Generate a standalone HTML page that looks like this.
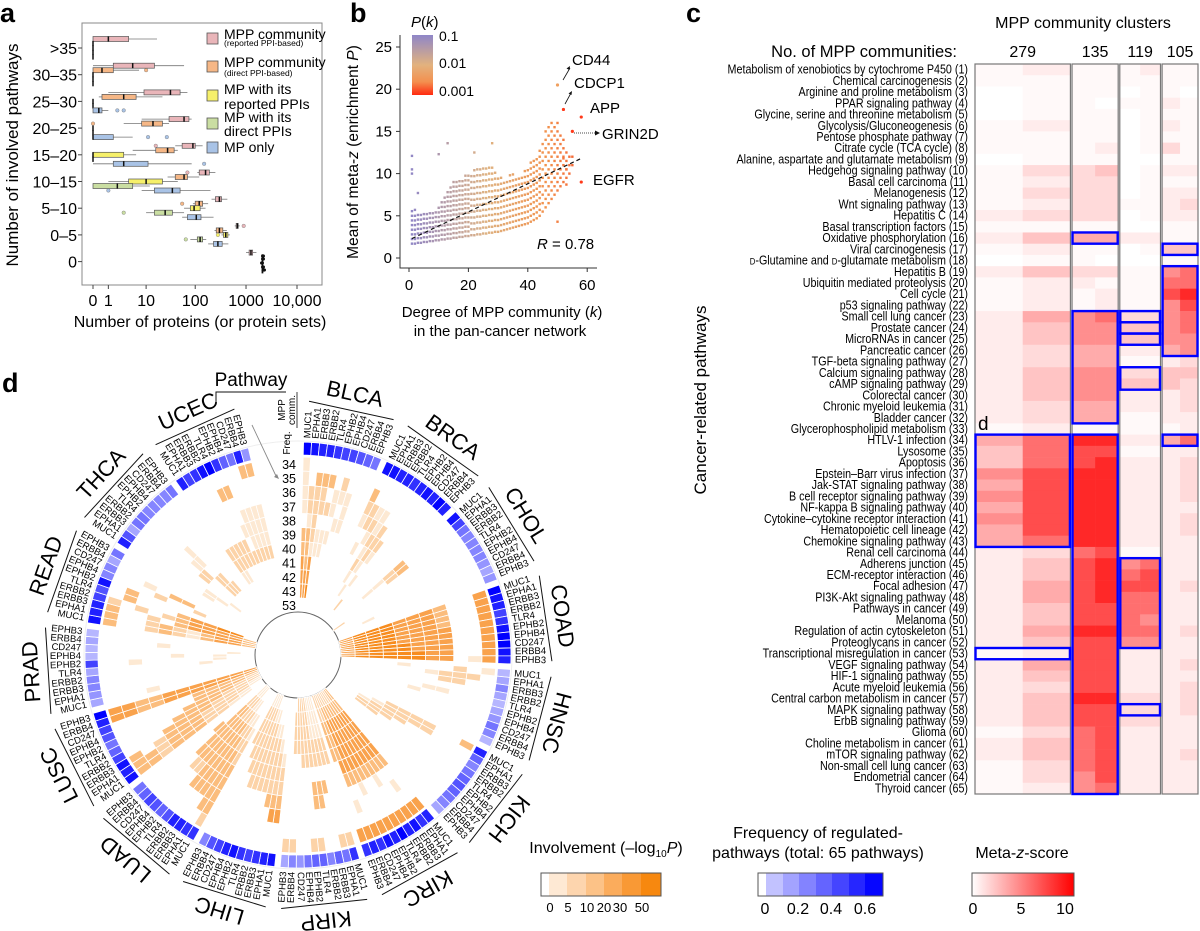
<!DOCTYPE html>
<html><head><meta charset="utf-8">
<style>
body{margin:0;background:#fff;}
svg{display:block;font-family:"Liberation Sans",Arial,sans-serif;}
.pl{font-weight:bold;font-size:27px;}
</style></head>
<body>
<svg id="fig" xmlns="http://www.w3.org/2000/svg" width="1200" height="931" viewBox="0 0 1200 931">
  <defs>
    <linearGradient id="pkGrad" x1="0" y1="0" x2="0" y2="1">
      <stop offset="0" stop-color="#8f86c8"/><stop offset="0.5" stop-color="#e2b27e"/><stop offset="0.78" stop-color="#f3904f"/><stop offset="1" stop-color="#ff2a10"/>
    </linearGradient>
    <linearGradient id="mzGrad" x1="0" y1="0" x2="1" y2="0">
      <stop offset="0" stop-color="#ffffff"/><stop offset="1" stop-color="#ff0000"/>
    </linearGradient>
  </defs>
  <text class="pl" x="0" y="22">a</text>
  <text class="pl" x="350" y="22">b</text>
  <text class="pl" x="686" y="22">c</text>
  <text class="pl" x="2" y="392">d</text>

  <g id="pa"></g>
  <g id="pb"></g>
  <g id="pc"></g>
  <g id="pd"></g>
  <g id="lg"></g>
</svg>
<script>
const NS='http://www.w3.org/2000/svg';
function mk(tag,attrs,parent){const e=document.createElementNS(NS,tag);for(const k in attrs)e.setAttribute(k,attrs[k]);parent.appendChild(e);return e;}
function tx(str,attrs,parent){const e=mk('text',attrs,parent);e.textContent=str;return e;}

/* ================= PANEL A DATA ================= */
const aCats=['>35','30–35','25–30','20–25','15–20','10–15','5–10','0–5','0'];
const aTicks=[0,1,10,100,1000,10000];
const aTickLabels=['0','1','10','100','1000','10,000'];
const aSeriesNames=['MPP community (reported PPI-based)','MPP community (direct PPI-based)','MP with its reported PPIs','MP with its direct PPIs','MP only'];
const pinkStats=[[0,0,1,4,17],[0,1.5,5,15,60],[1,9,32,50,70],[8,30,60,75,85],[40,55,90,100,140],[110,120,160,190,250],[210,250,300,330,430],[600,640,680,700,750],[1000,1150,1250,1350,1600]];
const orangeStats=[[0,0,0,0,0],[0,0,0.5,1.5,7],[0.3,0.5,3,6,22],[3,8,14,22,30],[5,16,28,38,45],[28,40,60,70,120],[90,100,120,140,180],[240,260,300,350,420],[2000,2050,2100,2150,2200]];
const yellowStats=[[0,0,0,0,0],[0,0,0,0,0],[0,0,0,0,0],[0,0,0,0,0],[0,0,0,3,6],[1,4,10,22,45],[60,80,95,125,160],[330,360,400,440,480],[2000,2050,2100,2150,2200]];
const greenStats=[[0,0,0,0,0],[0,0,0,0,0],[0,0,0,0,0],[0,0,0,0,0],[0,0,0,0,0],[0,0,2,5,12],[10,15,25,35,60],[80,110,125,140,165],[2000,2050,2100,2150,2200]];
const blueStats=[[0,0,0,0,0],[0,0,0,0,0],[0,0,0.3,0.5,1],[0,0,0,1.5,5],[0,1.5,3,11,85],[8,15,35,50,200],[55,70,105,130,230],[180,230,280,340,450],[2000,2050,2100,2150,2200]];
const aOutSeries=[1,4,4,1,4,4,0,4,0,4,1,3,0,2,3];
const aOutCats  =[1,2,2,3,3,3,4,4,5,5,6,6,7,7,7];
const aOutVals  =[10,2,3,0,11,27,16,150,70,1,55,3,900,280,65];

(function(){
  const g=document.getElementById('pa');
  const fills=['#e9b5b9','#f6b786','#f6f06a','#cadea2','#a9c3e6'];
  const offs=[-9,-4.5,0,4.5,9];
  const X=v=>93+51*Math.log10(v+1);
  const Y=ci=>48+ci*26.7;
  const frame=mk('rect',{x:82,y:23,width:240,height:262,fill:'none',stroke:'#888','stroke-width':1},g);
  
  
  aCats.forEach((c,i)=>{
    const t=tx(c,{x:77,y:Y(i)+6,'text-anchor':'end','font-size':16},g);
    
    
    mk('line',{x1:78,x2:82,y1:Y(i),y2:Y(i),stroke:'#444'},g);
  });
  aTicks.forEach((v,i)=>{
    const t=tx(aTickLabels[i],{x:X(v),y:306,'text-anchor':'middle','font-size':16},g);
    
    
    mk('line',{x1:X(v),x2:X(v),y1:285,y2:289,stroke:'#444'},g);
  });
  const series=[pinkStats,orangeStats,yellowStats,greenStats,blueStats];
  series.forEach((st,si)=>{
    st.forEach((s,ci)=>{
      if(!s)return;
      const yc=Y(ci)+offs[si];
      const bg=mk('g',{},g);
      
      
      mk('line',{x1:X(s[0]),x2:X(s[1]),y1:yc,y2:yc,stroke:'#777','stroke-width':0.8},bg);
      mk('line',{x1:X(s[3]),x2:X(s[4]),y1:yc,y2:yc,stroke:'#777','stroke-width':0.8},bg);
      const w=Math.max(X(s[3])-X(s[1]),0.01);
      if(w>0.5) mk('rect',{x:X(s[1]),y:yc-2.5,width:w,height:5,fill:fills[si],stroke:'#555','stroke-width':0.7},bg);
      mk('line',{x1:X(s[2]),x2:X(s[2]),y1:yc-2.6,y2:yc+2.6,stroke:'#111','stroke-width':1.5},bg);
    });
  });
  aOutVals.forEach((v,i)=>{
    const c=mk('circle',{cx:X(v),cy:Y(aOutCats[i])+offs[aOutSeries[i]],r:1.8,fill:fills[aOutSeries[i]],stroke:'#777','stroke-width':0.4},g);
    
    
  });
  [[263,256],[263,259],[262,263],[263,267],[264,270]].forEach(p=>{
    const c=mk('ellipse',{cx:p[0],cy:p[1],rx:2,ry:1.6,fill:'#111'},g);
    
    
  });
  const ly=[[33,39,46,'MPP community','(reported PPI-based)'],[61,67,76,'MPP community','(direct PPI-based)'],[90,94,109,'MP with its','reported PPIs'],[118,122,136,'MP with its','direct PPIs'],[142,152,null,'MP only',null]];
  ly.forEach((L,i)=>{
    const lg=mk('g',{},g);
    
    
    mk('rect',{x:207,y:L[0],width:11,height:11,fill:fills[i],stroke:'#555','stroke-width':0.8},lg);
    tx(L[3],{x:224,y:L[1],'font-size':14},lg);
    if(L[4]) tx(L[4],{x:224,y:L[2],'font-size':L[4].startsWith('(')?8.5:14},lg);
  });
})();

/* ================= PANEL B DATA ================= */
const bLo=[1.7,1.7,1.8,1.8,1.9,1.9,2.0,2.0,2.1,2.1,2.2,2.2,2.3,2.3,2.4,2.4,2.5,2.5,2.6,2.6,2.7,2.7,2.8,2.8,2.9,2.9,3.0,3.0,3.1,3.1,3.2,3.3,3.4,3.5,3.6,3.7,3.8,3.9,4.0,4.1,4.3,4.5,4.7,5.0,5.5,6,6.5,7,7.5,8,8.5,9,9.5,10,11];
const bHi=[6,5,5.5,5.5,5.5,5.5,5.5,5.5,5.5,6,7,7.5,8,8.5,9,9,9.5,9.5,10,10,10,10.5,10.5,11,11,11,11,11,10.5,10,10,9.5,9.5,10,10,9.5,9.5,10,10.5,11,11.5,12,12,13,14,15,16,16.5,16,16,15,14,13,12,12];
const bExtraK=[1,1,1,3,2,10,13,28,22,50,53,53,52];
const bExtraZ=[10,10.5,12.1,7.7,5.7,12.3,13.6,13.6,12.5,4.3,8.7,10.5,11.8];
const bGenes=['CD44','CDCP1','APP','GRIN2D','EGFR'];
const bGeneK=[50,52,58,55,58];
const bGeneZ=[20.5,17.6,16.7,15,9];
const bXTicks=[0,20,40,60];
const bYTicks=[0,5,10,15,20,25];
const regK=[1,58];
const regZ=[2.3,11.8];

(function(){
  const g=document.getElementById('pb');
  const X=k=>409+k*2.97;
  const Y=z=>258-z*8.44;
  const col=k=>{const t=Math.min(k/58,1);const s=[[0,143,134,200],[0.45,222,178,130],[0.8,242,145,75],[1,245,95,50]];
    for(let i=1;i<s.length;i++){if(t<=s[i][0]){const u=(t-s[i-1][0])/(s[i][0]-s[i-1][0]);return 'rgb('+[1,2,3].map(j=>Math.round(s[i-1][j]+u*(s[i][j]-s[i-1][j]))).join(',')+')';}}return 'rgb(245,95,50)';};
  const ax=mk('path',{d:'M400 35 V268 H597',fill:'none',stroke:'#333','stroke-width':1},g);
  
  
  bXTicks.forEach(v=>{mk('line',{x1:X(v),x2:X(v),y1:268,y2:272,stroke:'#333'},g);
    const t=tx(String(v),{x:X(v),y:290,'text-anchor':'middle','font-size':15},g);
    
    });
  bYTicks.forEach(v=>{mk('line',{x1:396,x2:400,y1:Y(v),y2:Y(v),stroke:'#333'},g);
    const t=tx(String(v),{x:392,y:Y(v)+5,'text-anchor':'end','font-size':15},g);
    
    });
  bLo.forEach((lo,i)=>{
    const k=i+1;const step=k<=20?0.55:(k<=44?0.7:1.0);
    for(let z=lo;z<=bHi[i]+0.001;z+=step){
      const p=mk('rect',{x:X(k)-1.2,y:Y(z)-1.2,width:2.4,height:2.4,fill:col(k)},g);
      
      
    }
  });
  bExtraK.forEach((k,i)=>{
    const p=mk('rect',{x:X(k)-1.2,y:Y(bExtraZ[i])-1.2,width:2.4,height:2.4,fill:col(k)},g);
    
    
  });
  const rl=mk('line',{x1:X(regK[0]),y1:Y(regZ[0]),x2:X(regK[1]),y2:Y(regZ[1]),stroke:'#111','stroke-width':1.2,'stroke-dasharray':'4,3'},g);
  
  
  const lpos=[[572,65],[574,88],[590,113],[602,139],[593,185]];
  bGenes.forEach((n,i)=>{
    const p=mk('circle',{cx:X(bGeneK[i]),cy:Y(bGeneZ[i]),r:1.6,fill:i==0?'#f0a060':'#ff3a1a'},g);
    
    
    const t=tx(n,{x:lpos[i][0],y:lpos[i][1],'font-size':15},g);
    
    
  });
  mk('line',{x1:563,y1:80,x2:570,y2:68,stroke:'#111','stroke-width':0.8},g);
  mk('path',{d:'M570 66 l-3.5 2.5 l3 1.5z',fill:'#111'},g);
  mk('line',{x1:565,y1:104,x2:571,y2:93,stroke:'#111','stroke-width':0.8},g);
  mk('path',{d:'M572 91 l-3.5 2.5 l3 1.5z',fill:'#111'},g);
  mk('line',{x1:574,y1:133,x2:596,y2:133,stroke:'#111','stroke-width':0.8,'stroke-dasharray':'1,1'},g);
  mk('path',{d:'M600 133 l-5 -2.5 v5z',fill:'#111'},g);
  const r=tx('',{x:537,y:249,'font-size':15},g);
  r.innerHTML='<tspan font-style="italic">R</tspan> = 0.78';
  
  
  const cb=mk('rect',{x:412,y:35,width:21,height:60,fill:'url(#pkGrad)'},g);
  
  
  const pk=tx('',{x:411,y:27,'font-size':15},g);
  pk.innerHTML='<tspan font-style="italic">P</tspan>(<tspan font-style="italic">k</tspan>)';
  
  
  [['0.1',41],['0.01',68],['0.001',96]].forEach(a=>{const t=tx(a[0],{x:439,y:a[1],'font-size':14},g);
    
    });
  const xl=tx('',{x:502,y:317,'text-anchor':'middle','font-size':15},g);
  xl.innerHTML='Degree of MPP community (<tspan font-style="italic">k</tspan>)';
  
  
  const xl2=tx('in the pan-cancer network',{x:500,y:336,'text-anchor':'middle','font-size':15},g);
  
  
  const yl=tx('',{x:0,y:0,'text-anchor':'middle','font-size':15.5,transform:'translate(358,152) rotate(-90)'},g);
  yl.innerHTML='Mean of meta-<tspan font-style="italic">z</tspan> (enrichment <tspan font-style="italic">P</tspan>)';
  
  
})();

/* ================= PANEL C DATA ================= */
const pathways=['Metabolism of xenobiotics by cytochrome P450','Chemical carcinogenesis','Arginine and proline metabolism','PPAR signaling pathway','Glycine, serine and threonine metabolism','Glycolysis/Gluconeogenesis','Pentose phosphate pathway','Citrate cycle (TCA cycle)','Alanine, aspartate and glutamate metabolism','Hedgehog signaling pathway','Basal cell carcinoma','Melanogenesis','Wnt signaling pathway','Hepatitis C','Basal transcription factors','Oxidative phosphorylation','Viral carcinogenesis','D-Glutamine and D-glutamate metabolism','Hepatitis B','Ubiquitin mediated proteolysis','Cell cycle','p53 signaling pathway','Small cell lung cancer','Prostate cancer','MicroRNAs in cancer','Pancreatic cancer','TGF-beta signaling pathway','Calcium signaling pathway','cAMP signaling pathway','Colorectal cancer','Chronic myeloid leukemia','Bladder cancer','Glycerophospholipid metabolism','HTLV-1 infection','Lysosome','Apoptosis','Epstein–Barr virus infection','Jak-STAT signaling pathway','B cell receptor signaling pathway','NF-kappa B signaling pathway','Cytokine–cytokine receptor interaction','Hematopoietic cell lineage','Chemokine signaling pathway','Renal cell carcinoma','Adherens junction','ECM-receptor interaction','Focal adhesion','PI3K-Akt signaling pathway','Pathways in cancer','Melanoma','Regulation of actin cytoskeleton','Proteoglycans in cancer','Transcriptional misregulation in cancer','VEGF signaling pathway','HIF-1 signaling pathway','Acute myeloid leukemia','Central carbon metabolism in cancer','MAPK signaling pathway','ErbB signaling pathway','Glioma','Choline metabolism in cancer','mTOR signaling pathway','Non-small cell lung cancer','Endometrial cancer','Thyroid cancer'];
const zRows=['12111211','11111111','01110110','01101121','01110111','12110121','11110111','11120131','01110011','13340122','12330111','13330122','12331123','23330122','11110011','24552211','12110144','01100011','24331167','12211177','12121189','12121168','25673367','24664467','24664466','23552256','23551123','24663344','24664443','24662223','23552223','23551122','12111112','57992257','47881122','47892223','68992223','58992223','68992223','58992222','68992223','58992223','57992222','23781122','24896722','24897822','25898823','25897722','24887722','24887622','25997723','24886622','12882222','25882223','24882222','23882223','24993323','24883323','24883322','13782222','24782222','24782223','13782222','13682222','12672222'];
const clusterCounts=[279,135,119,105];
const boxCluster=[2,4,4,3,3,3,2,3,1,2,4,3,1,3];
const boxRowStart=[16,17,19,23,24,25,23,28,34,34,34,45,53,58];
const boxRowEnd  =[16,17,26,23,24,25,32,29,43,65,34,52,53,58];

(function(){
  const g=document.getElementById('pc');
  const L=975,R=1198,T=64,B=794,gap=1.6;
  const rh=(B-T)/pathways.length;
  const tot=clusterCounts.reduce((a,b)=>a+b,0);
  const avail=R-L-gap*(clusterCounts.length-1);
  const edges=[];let x=L;
  clusterCounts.forEach(c=>{const w=avail*c/tot;edges.push([x,x+w]);x+=w+gap;});
  const red=v=>{const t=Math.pow(Math.min(v/10,1),1.6);const c=Math.round(255*(1-t));return 'rgb(255,'+c+','+c+')';};
  const cellsG=mk('g',{},g);
  zRows.forEach((s,ri)=>{
    for(let ci=0;ci<4;ci++){
      const [x0,x1]=edges[ci];const half=(x1-x0)/2;
      for(let h=0;h<2;h++){
        const v=parseInt(s[ci*2+h],10);
        const r=mk('rect',{x:x0+h*half,y:T+ri*rh,width:half+0.3,height:rh+0.3,fill:red(v)},cellsG);
        
        
      }
    }
  });
  edges.forEach((e,i)=>{
    const r=mk('rect',{x:e[0],y:T,width:e[1]-e[0],height:B-T,fill:'none',stroke:'#777','stroke-width':1.2},g);
    
    
    const t=tx(String(clusterCounts[i]),{x:(e[0]+e[1])/2,y:57,'text-anchor':'middle','font-size':16},g);
    
    
  });
  boxCluster.forEach((c,i)=>{
    const e=edges[c-1];
    const r=mk('rect',{x:e[0]+0.5,y:T+(boxRowStart[i]-1)*rh,width:e[1]-e[0]-1,height:(boxRowEnd[i]-boxRowStart[i]+1)*rh,fill:'none',stroke:'#0000ff','stroke-width':2.4},g);
    
    
  });
  const lab=mk('g',{transform:'translate(968,0) scale(0.86,1)'},g);
  pathways.forEach((p,i)=>{
    const t=tx('',{x:0,y:T+i*rh+rh/2+4,'text-anchor':'end','font-size':12.5},lab);
    if(p.startsWith('D-Glut')) t.innerHTML='<tspan font-size="9">D</tspan>-Glutamine and <tspan font-size="9">D</tspan>-glutamate metabolism ('+(i+1)+')';
    else t.textContent=p+' ('+(i+1)+')';
    
    
  });
  const t1=tx('MPP community clusters',{x:1083,y:28,'text-anchor':'middle','font-size':16},g);
  
  
  const t2=tx('No. of MPP communities:',{x:957,y:57,'text-anchor':'end','font-size':16.5},g);
  
  
  const t3=tx('Cancer-related pathways',{x:0,y:0,'text-anchor':'middle','font-size':17,transform:'translate(706,400) rotate(-90)'},g);
  
  
  const t4=tx('d',{x:978,y:430,'font-size':19},g);
  
  
})();

/* ================= PANEL D DATA ================= */
const cancers=['BLCA','BRCA','CHOL','COAD','HNSC','KICH','KIRC','KIRP','LIHC','LUAD','LUSC','PRAD','READ','THCA','UCEC'];
const genes=['MUC1','EPHA1','ERBB3','ERBB2','TLR4','EPHB2','EPHB4','CD247','ERBB4','EPHB3'];
const ringLabels=['34','35','36','37','38','39','40','41','42','43','53'];
const freq={
BLCA:[0.7,0.65,0.6,0.6,0.55,0.5,0.5,0.45,0.4,0.35],
BRCA:[0.65,0.65,0.6,0.6,0.55,0.6,0.65,0.6,0.7,0.6],
CHOL:[0.65,0.5,0.35,0.3,0.3,0.3,0.3,0.25,0.2,0.25],
COAD:[0.75,0.65,0.6,0.5,0.55,0.65,0.7,0.7,0.65,0.6],
HNSC:[0.15,0.2,0.3,0.2,0.15,0.2,0.25,0.35,0.3,0.15],
KICH:[0.6,0.4,0.3,0.35,0.4,0.45,0.4,0.35,0.3,0.2],
KIRC:[0.6,0.55,0.65,0.6,0.7,0.6,0.65,0.55,0.6,0.55],
KIRP:[0.55,0.35,0.4,0.3,0.4,0.4,0.35,0.25,0.3,0.2],
LIHC:[0.65,0.6,0.55,0.5,0.55,0.65,0.6,0.5,0.45,0.3],
LUAD:[0.55,0.55,0.6,0.6,0.45,0.4,0.45,0.5,0.4,0.35],
LUSC:[0.65,0.6,0.65,0.5,0.4,0.35,0.45,0.5,0.6,0.7],
PRAD:[0.2,0.25,0.3,0.3,0.2,0.5,0.15,0.15,0.2,0.15],
READ:[0.65,0.6,0.6,0.5,0.45,0.65,0.3,0.3,0.2,0.35],
THCA:[0.6,0.45,0.2,0.35,0.35,0.3,0.3,0.3,0.3,0.35],
UCEC:[0.6,0.5,0.55,0.65,0.7,0.55,0.4,0.35,0.6,0.25]};
const inv={
BLCA:['1000000000','1033302000','1222011100','1222210100','0120001100','3321110000','3311100000','4340000000','4440000000','4450000000','0000000000'],
BRCA:['0000000000','3000000000','2211000000','1221200000','0012220000','0101210000','0002100000','0001010000','0000100000','0000002000','0000000000'],
CHOL:['0000000000','0000000000','0000000000','0000000000','3300000000','2200000000','1000000000','1000000000','0000000100','0000000000','0002000000'],
COAD:['4444444444','0000000001','0000000000','3333444444','4444444444','4444444455','4444445555','5555555555','5555555555','5555555555','4444444444'],
HNSC:['1000000000','0200000000','2220000000','0220100000','0100100000','0000010000','1000000000','0000000000','0000000000','0000000000','0000000000'],
KICH:['3000000000','0000000000','0000000000','2200000000','2200000000','2220000000','2222000000','0122200000','0012200000','0000000000','0000000000'],
KIRC:['4444444444','0000000000','0100000010','0001001000','3333333330','4444444440','4444444433','4444444433','4444444433','3333333322','3322222222'],
KIRP:['2200220022','0000000000','0000000000','0003300000','0033300000','0000000000','2222222000','2222222220','1111222220','1111222220','1111222200'],
LIHC:['0000000000','0000000000','4400000000','3330000000','2222222000','2222222200','1222222220','0122222222','0011222222','0000112222','0000001111'],
LUAD:['2000000000','3300000000','3333300000','3333322000','3333333300','2333333300','2233333330','1223333300','0112223300','0001122200','0000011100'],
LUSC:['3330000044','3300000044','2220000033','3333000033','3333300044','3333330044','2223333344','2222333344','1222233344','1122223344','0011222344'],
PRAD:['0000000000','0000000000','0000010000','1000000000','0000000010','0000001000','0000000000','0000100000','0000011000','0000000100','0000000000'],
READ:['3332000000','0000330000','0002000100','2220002000','3302000300','2233300300','1144402000','3344400000','4444500000','4444500000','3333000000'],
THCA:['0000000000','0000000000','0000000000','0000010000','0000110000','0002200000','1100022000','0100022200','0010000000','0000000000','0000000000'],
UCEC:['0000000033','0000330000','0000000000','0000001111','0000011111','2222201111','2222222222','1100000000','0000000000','0000000000','0000000000']};

(function(){
  const g=document.getElementById('pd');
  const CX=298,CY=655,RIN=43,ROUT=198,BR0=200,BR1=213;
  const nr=ringLabels.length, rstep=(ROUT-RIN)/nr;
  const A0=1.5,GW=23.1,GGAP=1.5,SW=(GW-GGAP)/genes.length;
  const orange=['#ffffff','#fde9d3','#fcd3a8','#fbbd7d','#f9a24c','#f78c1e'];
  const blue=f=>{const t=Math.min(f/0.7,1);const c=Math.round(232*(1-t));return 'rgb('+c+','+c+',255)';};
  const P=(r,a)=>{const q=a*Math.PI/180;return [CX+r*Math.sin(q),CY-r*Math.cos(q)];};
  const sec=(r0,r1,a0,a1)=>{const o0=P(r1,a0),o1=P(r1,a1),i1=P(r0,a1),i0=P(r0,a0);
    return 'M'+o0[0].toFixed(2)+' '+o0[1].toFixed(2)+' A'+r1+' '+r1+' 0 0 1 '+o1[0].toFixed(2)+' '+o1[1].toFixed(2)+' L'+i1[0].toFixed(2)+' '+i1[1].toFixed(2)+' A'+r0+' '+r0+' 0 0 0 '+i0[0].toFixed(2)+' '+i0[1].toFixed(2)+'Z';};
  mk('circle',{cx:CX,cy:CY,r:RIN,fill:'none',stroke:'#666','stroke-width':1},g);
  mk('circle',{cx:CX,cy:CY,r:BR1+1,fill:'none',stroke:'#eee','stroke-width':1},g);
  cancers.forEach((c,ci)=>{
    const ga=A0+ci*GW;
    const cg=mk('g',{},g);
    
    
    genes.forEach((gn,gi)=>{
      const a0=ga+gi*SW,a1=a0+SW;
      const b=mk('path',{d:sec(BR0,BR1,a0,a1),fill:blue(freq[c][gi]),stroke:'#fff','stroke-width':0.8},cg);
      
      
      inv[c].forEach((row,ri)=>{
        const v=parseInt(row[gi],10);
        if(!v)return;
        const r1=ROUT-ri*rstep,r0=r1-rstep;
        const s=mk('path',{d:sec(r0,r1,a0,a1),fill:orange[v],stroke:'#fff','stroke-width':0.8},cg);
        
        
      });
      const am=(a0+a1)/2;const p=P(217,am);
      const left=am>180;
      const t=tx(gn,{x:p[0],y:p[1],'font-size':9.5,'dominant-baseline':'central','text-anchor':left?'end':'start',transform:'rotate('+(left?am+90:am-90)+' '+p[0]+' '+p[1]+')'},cg);
      
      
    });
    const am=ga+(GW-GGAP)/2;
    const lp=P(254,ga+1),rp=P(254,ga+GW-GGAP-1);
    const ln=mk('line',{x1:lp[0],y1:lp[1],x2:rp[0],y2:rp[1],stroke:'#111','stroke-width':1},cg);
    
    
    const tp=P(260,am);
    const t=tx(c,{x:tp[0],y:tp[1],'font-size':22,'text-anchor':'middle',transform:'rotate('+am+' '+tp[0]+' '+tp[1]+')'},cg);
    
    
  });
  ringLabels.forEach((l,ri)=>{
    const r=ROUT-ri*rstep-rstep/2;
    const t=tx(l,{x:296,y:CY-r+5,'text-anchor':'end','font-size':12.5},g);
    
    
  });
  const f=tx('Freq.',{x:0,y:0,'font-size':10,'text-anchor':'middle',transform:'translate(290,443) rotate(-90)'},g);
  
  
  const m1=tx('MPP',{x:0,y:0,'font-size':10,'text-anchor':'middle',transform:'translate(285,410) rotate(-90)'},g);
  
  
  const m2=tx('comm.',{x:0,y:0,'font-size':10,'text-anchor':'middle',transform:'translate(295,410) rotate(-90)'},g);
  
  
  mk('line',{x1:297,y1:392,x2:297,y2:428,stroke:'#111','stroke-width':0.8},g);
  const pw=tx('Pathway',{x:251,y:386,'font-size':19,'text-anchor':'middle'},g);
  
  
  mk('path',{d:'M216 405 V392 H286',fill:'none',stroke:'#111','stroke-width':1},g);
  mk('line',{x1:252,y1:425,x2:276,y2:476,stroke:'#888','stroke-width':0.9},g);
  mk('path',{d:'M279 479 l-5 -2 l3 -3z',fill:'#888'},g);
})();

/* ================= LEGENDS ================= */
const invTicks=['0','5','10','20','30','50'];
const freqTicks=['0','0.2','0.4','0.6'];
const mzTicks=['0','5','10'];
(function(){
  const g=document.getElementById('lg');
  const ic=['#ffffff','#fee9d4','#fdd5ae','#fcc287','#fbac5c','#f99935','#f7880f'];
  const ie=[541,549,567,586,604,622,641,661];
  const t1=tx('',{x:606,y:853,'text-anchor':'middle','font-size':16},g);
  t1.innerHTML='Involvement (–log<tspan font-size="10" dy="4">10</tspan><tspan dy="-4" font-style="italic">P</tspan>)';
  
  
  ic.forEach((c,i)=>{const r=mk('rect',{x:ie[i],y:873,width:ie[i+1]-ie[i],height:23,fill:c},g);
    
    });
  mk('rect',{x:541,y:873,width:120,height:23,fill:'none',stroke:'#555'},g);
  const ix=[550,568,587,604,620,642];
  invTicks.forEach((l,i)=>{const t=tx(l,{x:ix[i],y:912,'text-anchor':'middle','font-size':13},g);
    
    });

  const fe=[758,766,783,799,816,832,849,865,883];
  const t2=tx('Frequency of regulated-',{x:818,y:838,'text-anchor':'middle','font-size':16},g);
  
  
  const t2b=tx('pathways (total: 65 pathways)',{x:818,y:858,'text-anchor':'middle','font-size':16},g);
  
  
  for(let i=0;i<8;i++){const c=i==0?255:Math.round(225*(1-(i)/7.2));
    const r=mk('rect',{x:fe[i],y:873,width:fe[i+1]-fe[i],height:23,fill:i==0?'#fff':'rgb('+c+','+c+',255)'},g);
    
    }
  mk('rect',{x:758,y:873,width:125,height:23,fill:'none',stroke:'#555'},g);
  const fx=[765,798,831,865];
  freqTicks.forEach((l,i)=>{const t=tx(l,{x:fx[i],y:914,'text-anchor':'middle','font-size':16},g);
    
    });

  const t3=tx('',{x:1022,y:858,'text-anchor':'middle','font-size':16},g);
  t3.innerHTML='Meta-<tspan font-style="italic">z</tspan>-score';
  
  
  const mb=mk('rect',{x:972,y:873,width:102,height:23,fill:'url(#mzGrad)',stroke:'#555'},g);
  
  
  const mx=[973,1021,1065];
  mzTicks.forEach((l,i)=>{const t=tx(l,{x:mx[i],y:914,'text-anchor':'middle','font-size':16},g);
    
    });
})();

(function(){
  const g=document.getElementById('pa');
  const x=tx('Number of proteins (or protein sets)',{x:200,y:327,'text-anchor':'middle','font-size':16},g);
  
  
  const y=tx('Number of involved pathways',{x:0,y:0,'text-anchor':'middle','font-size':17,transform:'translate(18,155) rotate(-90)'},g);
  
  
})();
</script>
</body></html>
